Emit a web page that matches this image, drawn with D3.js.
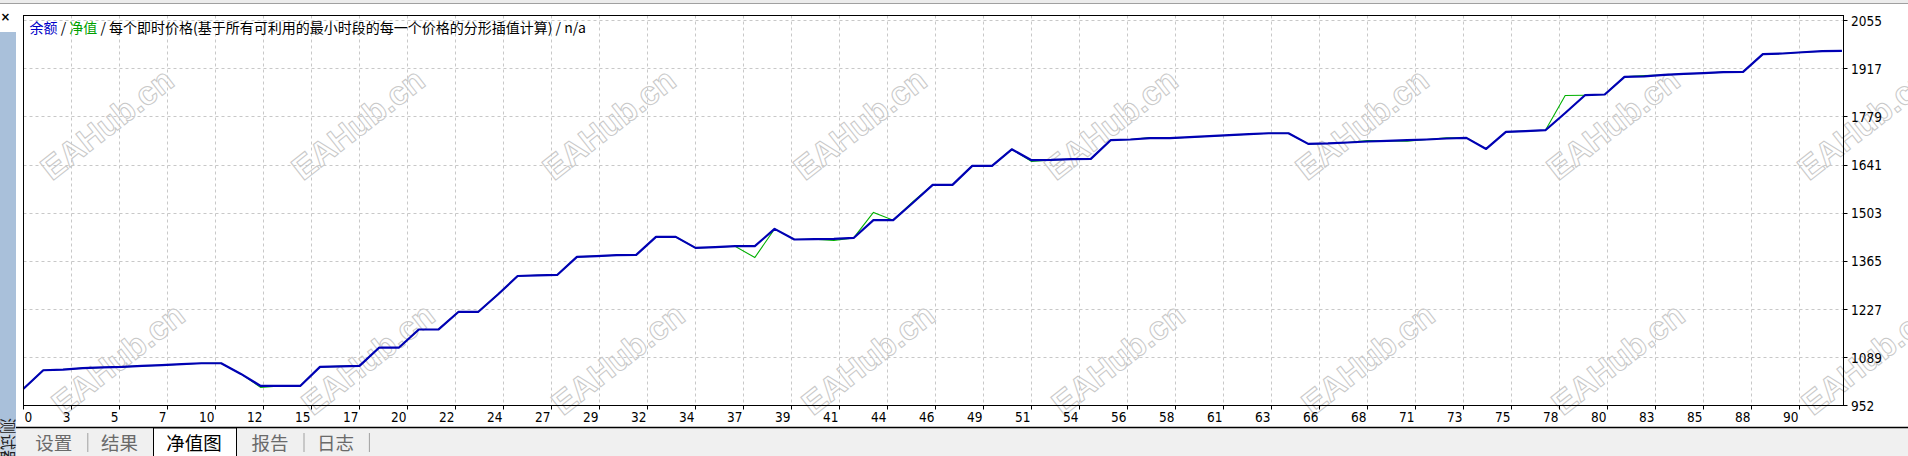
<!DOCTYPE html>
<html><head><meta charset="utf-8">
<script src="https://cdn.jsdelivr.net/npm/d3@7/dist/d3.min.js"></script>
<style>
html,body{margin:0;padding:0;background:#fff;overflow:hidden}
svg{display:block}
</style></head><body>
<svg id="c" width="1908" height="456"></svg>
<script>
// ---------- data ----------
const balance = [1000,1053,1055,1059,1061,1062.6,1065.5,1067.5,1070.3,1073,
  1073,1042.5,1008,1008,1008,1062.6,1064,1065.5,1118,1118,
  1169.7,1170,1220,1220,1270,1323,1325,1326,1377.7,1380,
  1382.6,1383.5,1435,1435,1403.5,1405.5,1408.4,1408.4,1458,1427.6,
  1428.5,1429.4,1432,1483,1483,1533,1584,1584,1638.5,1638.5,
  1686,1654.8,1655.6,1657.7,1658.5,1712,1714,1717.8,1717.8,1720.7,
  1723.6,1726.4,1729.3,1732,1732,1701.5,1702.7,1705.5,1708.4,1710,
  1712,1714,1717,1718.7,1687,1736,1738,1740.7,1790,1841,
  1843,1893.5,1895,1899,1902,1904,1907,1908,1958.5,1960.5,
  1964,1967,1968];
const equity = [1000,1053,1055,1059,1061,1062.6,1065.5,1067.5,1070.3,1073,
  1073,1042.5,1004,1008,1008,1062.6,1064,1065.5,1118,1118,
  1169.7,1170,1220,1220,1270,1323,1325,1326,1377.7,1380,
  1382.6,1383.5,1435,1435,1403.5,1405.5,1408.4,1376,1458,1427.6,
  1428.5,1425,1432,1505,1483,1536,1584,1584,1638.5,1638.5,
  1686,1651,1655.6,1657.7,1658.5,1712,1714,1720,1717.8,1720.7,
  1723.6,1726.4,1729.3,1732,1732,1701.5,1702.7,1705.5,1711,1710,
  1709,1714,1719,1718.7,1687,1736,1738,1740.7,1840,1841,
  1843,1893.5,1897,1899,1902,1904,1907,1908,1958.5,1960.5,
  1964,1967,1968];
const xTickLabels = [0,3,5,7,10,12,15,17,20,22,24,27,29,32,34,37,39,41,44,46,49,51,54,56,58,61,63,66,68,71,73,75,78,80,83,85,88,90];
const yTickLabels = [952,1089,1227,1365,1503,1641,1779,1917,2055];
const xMax = 92.08;          // trades across the plot width
const xTickStep = 2.4285;    // trades per vertical grid cell
const titleParts = [
  {t:"余额", c:"#0000c8"}, {t:" / ", c:"#000"}, {t:"净值", c:"#00a000"},
  {t:" / 每个即时价格(基于所有可利用的最小时段的每一个价格的分形插值计算) / n/a", c:"#000"}];
const tabs = ["设置","结果","净值图","报告","日志"];
const activeTab = 2;
const watermark = "EAHub.cn";

// ---------- layout ----------
const svg = d3.select("#c");
const L = 23.5, R = 1843.5, T = 15.5, B = 405.5;
const x = d3.scaleLinear().domain([0, xMax]).range([L, R]);
const y = d3.scaleLinear().domain([952, 2055]).range([B, 20.5]);
const crisp = v => Math.round(v - 0.5) + 0.5;
const axisFont = "'DejaVu Sans Condensed','DejaVu Sans',Tahoma,sans-serif";
const cjkFont = "'Noto Sans CJK SC','Noto Sans',sans-serif";

// window chrome
svg.append("rect").attr("x",0).attr("y",0).attr("width",1908).attr("height",3).attr("fill","#ececec");
svg.append("line").attr("x1",0).attr("x2",1908).attr("y1",3.5).attr("y2",3.5).attr("stroke","#a0a0a0");
svg.append("rect").attr("x",0).attr("y",32).attr("width",16).attr("height",390).attr("fill","#a9c0da");
svg.append("rect").attr("x",0).attr("y",422).attr("width",16).attr("height",34).attr("fill","#c9d6e6");
svg.append("text").attr("x",5.5).attr("y",21).attr("text-anchor","middle")
  .attr("font-family",axisFont).attr("font-weight","bold").attr("font-size",13).text("×");

// grid
const xTicks = xTickLabels.map((lab,k)=>({lab, v:k*xTickStep}));
const grid = svg.append("g").attr("stroke","#c8c8c8").attr("stroke-dasharray","3,3");
grid.selectAll(".gx").data(xTicks.slice(1)).join("line")
  .attr("x1",d=>crisp(x(d.v))).attr("x2",d=>crisp(x(d.v))).attr("y1",T).attr("y2",B);
grid.selectAll(".gy").data(yTickLabels.slice(1)).join("line")
  .attr("x1",L).attr("x2",R).attr("y1",d=>crisp(y(d))).attr("y2",d=>crisp(y(d)));

// watermarks
const wm = svg.append("g").attr("font-family","'Liberation Sans',Arial,sans-serif")
  .attr("font-size",33).attr("font-weight","bold").attr("fill","none")
  .attr("stroke","#c8c8c8").attr("stroke-width",1);
const wmPos = [];
for (let k=0;k<8;k++){ wmPos.push([107+251*k,124]); wmPos.push([118+250*k,359]); }
wm.selectAll("text").data(wmPos).join("text")
  .attr("text-anchor","middle").attr("dominant-baseline","central")
  .attr("transform",d=>`translate(${d[0]},${d[1]}) rotate(-38)`).text(watermark);

// lines
const line = d3.line().x((d,i)=>x(i)).y(d=>y(d));
svg.append("path").datum(equity).attr("d",line).attr("fill","none")
  .attr("stroke","#00b000").attr("stroke-width",1.1);
svg.append("path").datum(balance).attr("d",line).attr("fill","none")
  .attr("stroke","#0000b4").attr("stroke-width",2.2).attr("stroke-linejoin","round");

// frame
svg.append("rect").attr("x",L).attr("y",T).attr("width",R-L).attr("height",B-T)
  .attr("fill","none").attr("stroke","#000");

// x axis ticks + labels
const xa = svg.append("g").attr("font-family",axisFont).attr("font-size",13.5).attr("fill","#000");
xa.selectAll("line").data(xTicks).join("line")
  .attr("x1",d=>crisp(x(d.v))).attr("x2",d=>crisp(x(d.v))).attr("y1",B).attr("y2",B+4).attr("stroke","#000");
xa.selectAll("text").data(xTicks).join("text")
  .attr("x",(d,k)=>k===0 ? x(d.v)+1 : x(d.v)-1)
  .attr("text-anchor",(d,k)=>k===0?"start":"end")
  .attr("y",422).text(d=>d.lab);

// y axis ticks + labels
const ya = svg.append("g").attr("font-family",axisFont).attr("font-size",13.5).attr("fill","#000");
ya.selectAll("line").data(yTickLabels).join("line")
  .attr("x1",R).attr("x2",R+4).attr("y1",d=>crisp(y(d))).attr("y2",d=>crisp(y(d))).attr("stroke","#000");
ya.selectAll("text").data(yTickLabels).join("text")
  .attr("x",R+7.5).attr("y",d=>y(d)+5).text(d=>d);

// title
const tt = svg.append("text").attr("x",29.5).attr("y",33).attr("font-family",cjkFont).attr("font-size",14);
tt.selectAll("tspan").data(titleParts).join("tspan").attr("fill",d=>d.c).text(d=>d.t);

// tab strip
svg.append("rect").attr("x",16).attr("y",428).attr("width",1892).attr("height",28).attr("fill","#f0f0f0");
svg.append("line").attr("x1",16).attr("x2",1908).attr("y1",427.5).attr("y2",427.5).attr("stroke","#000").attr("stroke-width",1.5);
const tabCx = [53.7,119.5,194,270,335.5];
const seps = [87.8,304,369.4];
svg.append("rect").attr("x",153.5).attr("y",428).attr("width",83).attr("height",30)
  .attr("fill","#fff").attr("stroke","#000");
svg.selectAll(".sep").data(seps).join("line").attr("x1",d=>d).attr("x2",d=>d)
  .attr("y1",433).attr("y2",452).attr("stroke","#a0a0a0");
svg.selectAll(".tab").data(tabs).join("text")
  .attr("x",(d,i)=>tabCx[i]).attr("y",449.5).attr("text-anchor","middle")
  .attr("font-family",cjkFont).attr("font-size",18.5)
  .attr("fill",(d,i)=>i===activeTab?"#000":"#6a6a6a").text(d=>d);
svg.append("text").attr("transform","translate(2,442) rotate(90)").attr("text-anchor","middle")
  .attr("font-family",cjkFont).attr("font-size",16).attr("fill","#222").text("测试器");
</script>
</body></html>
